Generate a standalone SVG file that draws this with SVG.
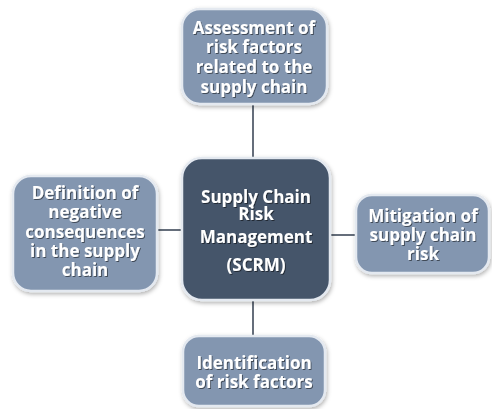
<svg xmlns="http://www.w3.org/2000/svg" width="492" height="409" viewBox="0 0 492 409">
  <defs>
    <filter id="shadow" x="-20%" y="-20%" width="140%" height="140%">
      <feDropShadow dx="1" dy="2" stdDeviation="2" flood-color="#000" flood-opacity="0.3"/>
    </filter>
    <filter id="textShadow" x="-10%" y="-10%" width="120%" height="140%">
      <feDropShadow dx="1" dy="1" stdDeviation="0.6" flood-color="#000" flood-opacity="0.5"/>
    </filter>
  </defs>
  <style>
    .outer { fill: #8396b0; stroke: #e4e9f0; stroke-width: 2.5; }
    .core { fill: #44546a; stroke: #e4e9f0; stroke-width: 2.5; }
    .label { font-family: "Open Sans", "Noto Sans", sans-serif; font-weight: bold; font-size: 17px; fill: #ffffff; text-anchor: middle; }
    .link { stroke: #3f4a5a; stroke-width: 1.6; fill: none; }
  </style>
  <rect width="492" height="409" fill="#ffffff"/>

  <!-- connectors between the hub and its four satellites -->
  <g id="connectors">
    <line class="link" x1="253" y1="104" x2="253" y2="158"/>
    <line class="link" x1="253" y1="300" x2="253" y2="336"/>
    <line class="link" x1="157" y1="230" x2="182" y2="230"/>
    <line class="link" x1="330" y1="235" x2="356" y2="235"/>
  </g>

  <g id="node-scrm">
    <rect class="core" x="182" y="158" width="148" height="142" rx="20" filter="url(#shadow)"/>
    <g class="label" filter="url(#textShadow)">
      <text x="256" y="203">Supply Chain</text>
      <text x="256" y="220">Risk</text>
      <text x="256" y="243">Management</text>
      <text x="256" y="271">(SCRM)</text>
    </g>
  </g>

  <g id="node-assessment">
    <rect class="outer" x="182" y="9" width="145" height="95" rx="18" filter="url(#shadow)"/>
    <g class="label" filter="url(#textShadow)">
      <text x="254" y="34">Assessment of</text>
      <text x="254" y="53">risk factors</text>
      <text x="254" y="73">related to the</text>
      <text x="254" y="93">supply chain</text>
    </g>
  </g>

  <g id="node-definition">
    <rect class="outer" x="13" y="176" width="144" height="115" rx="18" filter="url(#shadow)"/>
    <g class="label" filter="url(#textShadow)">
      <text x="85" y="199">Definition of</text>
      <text x="85" y="218">negative</text>
      <text x="85" y="238">consequences</text>
      <text x="85" y="257">in the supply</text>
      <text x="85" y="276">chain</text>
    </g>
  </g>

  <g id="node-mitigation">
    <rect class="outer" x="356" y="195" width="133" height="78" rx="16" filter="url(#shadow)"/>
    <g class="label" filter="url(#textShadow)">
      <text x="423" y="222">Mitigation of</text>
      <text x="423" y="241">supply chain</text>
      <text x="423" y="260">risk</text>
    </g>
  </g>

  <g id="node-identification">
    <rect class="outer" x="183" y="336" width="142" height="70" rx="16" filter="url(#shadow)"/>
    <g class="label" filter="url(#textShadow)">
      <text x="254" y="369">Identification</text>
      <text x="254" y="388">of risk factors</text>
    </g>
  </g>
</svg>
